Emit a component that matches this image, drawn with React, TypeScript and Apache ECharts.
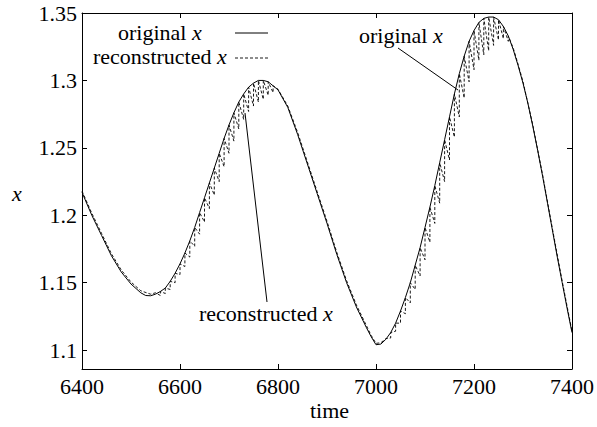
import React, { useEffect, useRef } from "react";
import * as echarts from "echarts";

// ---- data ----
const origTime = [
  6400, 6420, 6440, 6460, 6480, 6500, 6520, 6530, 6540, 6550, 6560, 6570, 6580, 6590,
  6600, 6610, 6620, 6630, 6640, 6650, 6660, 6670, 6680, 6690, 6700, 6710, 6720, 6730,
  6740, 6750, 6760, 6770, 6780, 6790, 6800, 6820, 6840, 6860, 6880, 6900, 6920, 6940,
  6960, 6980, 6990, 7000, 7010, 7020, 7030, 7040, 7050, 7060, 7070, 7080, 7090, 7100,
  7110, 7120, 7130, 7140, 7150, 7160, 7170, 7180, 7190, 7200, 7210, 7220, 7230, 7240,
  7250, 7260, 7270, 7280, 7290, 7300, 7310, 7320, 7330, 7340, 7350, 7360, 7370, 7380,
  7390, 7400,
];
const origValue = [
  1.217, 1.2, 1.185, 1.17, 1.158, 1.149, 1.1425, 1.1405, 1.1403, 1.1415, 1.1435, 1.146, 1.151, 1.157,
  1.164, 1.172, 1.181, 1.191, 1.202, 1.213, 1.224, 1.235, 1.246, 1.257, 1.267, 1.276, 1.284, 1.29,
  1.295, 1.298, 1.3, 1.3, 1.299, 1.296, 1.293, 1.28, 1.26, 1.238, 1.216, 1.194, 1.171, 1.15,
  1.132, 1.117, 1.11, 1.104, 1.1045, 1.108, 1.113, 1.12, 1.129, 1.139, 1.15, 1.163, 1.176, 1.191,
  1.206, 1.222, 1.239, 1.256, 1.273, 1.29, 1.305, 1.318, 1.329, 1.337, 1.343, 1.346, 1.347, 1.347,
  1.345, 1.34, 1.333, 1.323, 1.311, 1.298, 1.283, 1.266, 1.248, 1.229, 1.209, 1.189, 1.169, 1.15,
  1.131, 1.113,
];

// reconstructed signal: repeated times are the vertical resets of the saw-tooth
const reconTime = [
  6400, 6420, 6440, 6460, 6480, 6500, 6520, 6540, 6550,
  6560, 6560, 6570, 6570, 6580, 6580, 6590, 6590, 6600, 6600, 6610, 6610, 6620, 6620,
  6630, 6630, 6640, 6640, 6650, 6650, 6660, 6660, 6670, 6670, 6680, 6680, 6690, 6690,
  6700, 6700, 6710, 6710, 6720, 6720, 6730, 6730, 6740, 6740, 6750, 6750, 6760, 6760,
  6770, 6770, 6780, 6780, 6790, 6790,
  6800, 6820, 6840, 6860, 6880, 6900, 6920, 6940, 6960, 6980, 6990, 7000, 7010, 7020,
  7030, 7030, 7040, 7040, 7050, 7050, 7060, 7060, 7070, 7070, 7080, 7080, 7090, 7090,
  7100, 7100, 7110, 7110, 7120, 7120, 7130, 7130, 7140, 7140, 7150, 7150, 7160, 7160,
  7170, 7170, 7180, 7180, 7190, 7190, 7200, 7200, 7210, 7210, 7220, 7220, 7230, 7230,
  7240, 7240, 7250, 7250, 7260, 7260, 7270, 7270,
  7280, 7290, 7300, 7320, 7340, 7360, 7380, 7400,
];
const reconValue = [
  1.218, 1.2015, 1.1865, 1.1715, 1.1595, 1.1505, 1.144, 1.1415, 1.1425,
  1.1405, 1.1435, 1.142, 1.146, 1.145, 1.151, 1.15, 1.157, 1.156, 1.164, 1.162, 1.172, 1.169, 1.181,
  1.177, 1.191, 1.186, 1.202, 1.195, 1.213, 1.205, 1.224, 1.215, 1.235, 1.225, 1.246, 1.236, 1.257,
  1.246, 1.267, 1.255, 1.276, 1.264, 1.284, 1.271, 1.29, 1.277, 1.295, 1.281, 1.298, 1.284, 1.3,
  1.286, 1.3, 1.289, 1.299, 1.291, 1.296,
  1.2935, 1.281, 1.2615, 1.2395, 1.2175, 1.1955, 1.1725, 1.1515, 1.1335, 1.1185, 1.111, 1.105, 1.1055, 1.1085,
  1.109, 1.113, 1.114, 1.12, 1.12, 1.129, 1.127, 1.139, 1.135, 1.15, 1.145, 1.163, 1.155, 1.176,
  1.167, 1.191, 1.18, 1.206, 1.194, 1.222, 1.209, 1.239, 1.225, 1.256, 1.241, 1.273, 1.258, 1.29,
  1.273, 1.305, 1.287, 1.318, 1.299, 1.329, 1.308, 1.337, 1.315, 1.343, 1.319, 1.346, 1.322, 1.347,
  1.326, 1.347, 1.33, 1.345, 1.331, 1.34, 1.329, 1.333,
  1.324, 1.312, 1.299, 1.267, 1.23, 1.19, 1.151, 1.114,
];

const xMin = 6400;
const xMax = 7400;
const xStep = 200;
const yMin = 1.086;
const yMax = 1.35;
const yTicks = [1.1, 1.15, 1.2, 1.25, 1.3, 1.35];

const seriesNames = ["original x", "reconstructed x"];

export default function App() {
  const ref = useRef<HTMLDivElement>(null);

  useEffect(() => {
    document.body.style.margin = "0";
    const chart = echarts.init(ref.current!, null, { renderer: "svg" });
    const FAM = "serif";
    const FS = 22;
    const origData = origTime.map((t, i) => [t, origValue[i]]);
    const reconData = reconTime.map((t, i) => [t, reconValue[i]]);

    const line = { show: true, lineStyle: { color: "#000", width: 1 } };
    const tick = { show: true, inside: true, length: 5, lineStyle: { color: "#000", width: 1 } };

    const richLabel = (txt: string, x: number, y: number) => ({
      type: "text",
      style: {
        text: `{r|${txt} }{i|x}`,
        x,
        y,
        fontFamily: FAM,
        fontSize: FS,
        fill: "#000",
        verticalAlign: "middle",
        rich: {
          r: { fontFamily: FAM, fontSize: FS, fill: "#000" },
          i: { fontFamily: FAM, fontSize: FS, fontStyle: "italic", fill: "#000" },
        },
      },
    });

    chart.setOption({
      animation: false,
      textStyle: { fontFamily: FAM },
      grid: { left: 82, right: 22, top: 13, bottom: 58 },
      xAxis: [
        {
          type: "value",
          min: xMin,
          max: xMax,
          interval: xStep,
          position: "bottom",
          axisLine: line,
          axisTick: tick,
          splitLine: { show: false },
          axisLabel: {
            show: true,
            margin: 6,
            color: "#000",
            fontFamily: FAM,
            fontSize: FS,
            formatter: (v: number) => String(v),
          },
        },
        {
          type: "value",
          min: xMin,
          max: xMax,
          interval: xStep,
          position: "top",
          axisLine: line,
          axisTick: tick,
          splitLine: { show: false },
          axisLabel: { show: false },
        },
      ],
      yAxis: [
        {
          type: "value",
          min: yMin,
          max: yMax,
          position: "left",
          axisLine: line,
          axisTick: { ...tick, customValues: yTicks },
          splitLine: { show: false },
          axisLabel: {
            show: true,
            margin: 5,
            color: "#000",
            fontFamily: FAM,
            fontSize: FS,
            customValues: yTicks,
            formatter: (v: number) => String(v),
          },
        },
        {
          type: "value",
          min: yMin,
          max: yMax,
          position: "right",
          axisLine: line,
          axisTick: { ...tick, customValues: yTicks },
          splitLine: { show: false },
          axisLabel: { show: false, customValues: yTicks },
        },
      ],
      series: [
        {
          name: seriesNames[0],
          type: "line",
          xAxisIndex: 0,
          yAxisIndex: 0,
          data: origData,
          symbol: "none",
          smooth: false,
          lineStyle: { color: "#000", width: 1 },
          z: 3,
        },
        {
          name: seriesNames[1],
          type: "line",
          xAxisIndex: 0,
          yAxisIndex: 0,
          data: reconData,
          symbol: "none",
          smooth: false,
          lineStyle: { color: "#000", width: 0.9, type: [3, 2] },
          z: 2,
        },
      ],
      graphic: [
        // key (legend) in gnuplot style
        richLabel("original", 118, 32),
        {
          type: "line",
          shape: { x1: 235, y1: 33, x2: 268, y2: 33 },
          style: { stroke: "#000", lineWidth: 1 },
        },
        richLabel("reconstructed", 93, 56),
        {
          type: "line",
          shape: { x1: 235, y1: 58, x2: 268, y2: 58 },
          style: { stroke: "#000", lineWidth: 0.9, lineDash: [3, 2] },
        },
        // annotations
        richLabel("original", 359, 35),
        {
          type: "line",
          shape: { x1: 398, y1: 48, x2: 458, y2: 90 },
          style: { stroke: "#000", lineWidth: 1 },
        },
        richLabel("reconstructed", 199, 313),
        {
          type: "line",
          shape: { x1: 267, y1: 302, x2: 245, y2: 113 },
          style: { stroke: "#000", lineWidth: 1 },
        },
        // axis titles
        {
          type: "text",
          style: {
            text: "x",
            x: 12,
            y: 193,
            fontFamily: FAM,
            fontSize: FS,
            fontStyle: "italic",
            fill: "#000",
            verticalAlign: "middle",
          },
        },
        {
          type: "text",
          style: {
            text: "time",
            x: 310,
            y: 410,
            fontFamily: FAM,
            fontSize: FS,
            fill: "#000",
            verticalAlign: "middle",
          },
        },
      ],
    });

    return () => chart.dispose();
  }, []);

  return <div ref={ref} style={{ width: 597, height: 427 }} />;
}
